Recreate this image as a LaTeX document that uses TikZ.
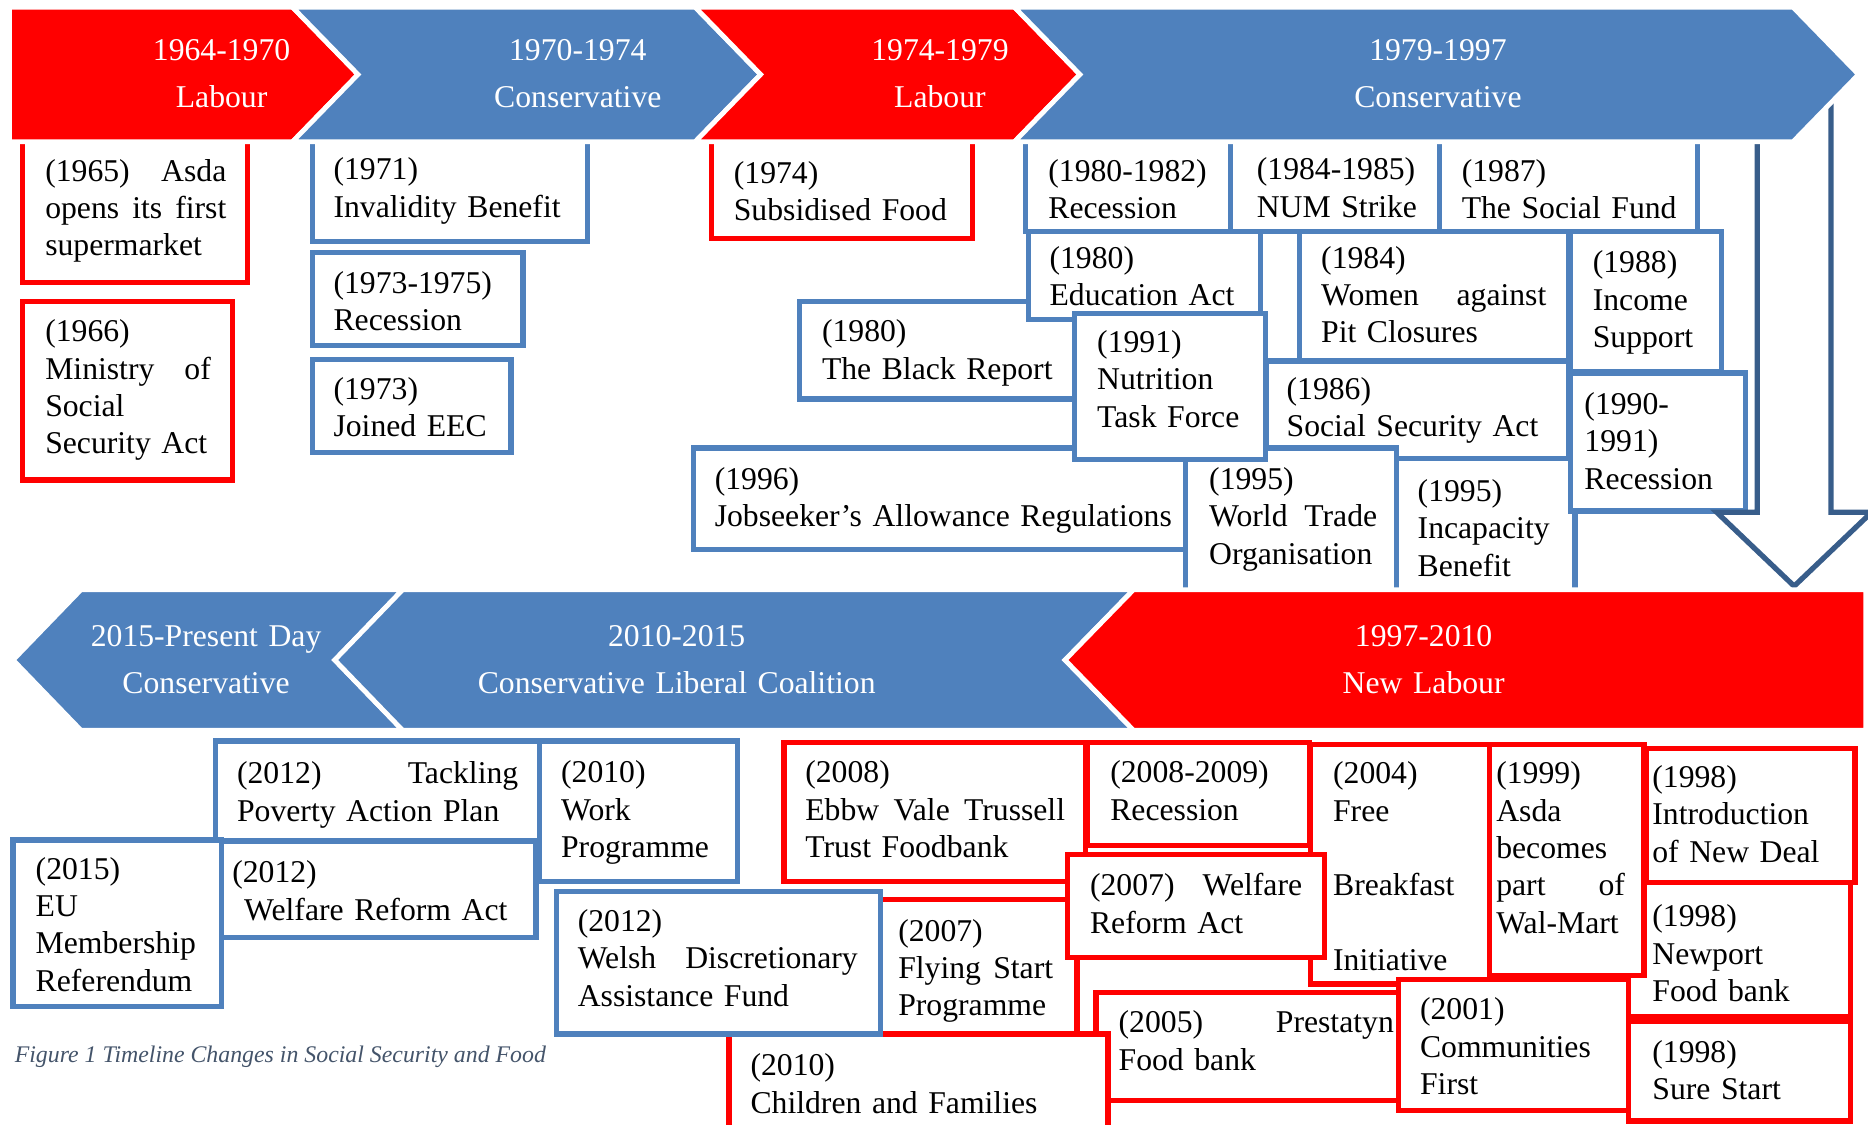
\documentclass[tikz,border=0pt]{standalone}
\usepackage{fontspec}
\setmainfont{Liberation Serif}
\definecolor{labred}{HTML}{FF0000}
\definecolor{barblue}{HTML}{4F81BD}
\definecolor{boxblue}{HTML}{4F81BD}
\definecolor{arrowblue}{HTML}{385D8A}
\definecolor{capcol}{HTML}{44546A}
% stretchable space for justified lines
\newcommand\gap{\hskip 0pt plus 1fill\relax}
\newcommand\boxfont{\fontsize{13.3pt}{15.65pt}\selectfont}
\newcommand\barfont{\fontsize{13.3pt}{19.5pt}\selectfont}
\hyphenpenalty=10000
\exhyphenpenalty=10000
\begin{document}
\begin{tikzpicture}[x=0.5pt,y=-0.5pt,
  chev/.style={draw=white,line width=2pt,line join=miter},
  rbox/.style={draw=labred,line width=2.2pt,fill=white},
  bbox/.style={draw=boxblue,line width=2.2pt,fill=white},
  txt/.style={anchor=base west,inner sep=0pt,outer sep=0pt,align=left,font=\boxfont,text width=#1},
  txt/.default=200pt,
  barlab/.style={anchor=base,inner sep=0pt,text width=240pt,align=center,text=white,font=\barfont},
  arrowline/.style={draw=arrowblue,line width=2.2pt,fill=white,line join=miter}]
\path[use as bounding box] (0,0) rectangle (1568,944);
\clip (0,0) rectangle (1568,944);

% ---------- upper row of events ----------
\path[rbox] (19,119) rectangle (208,237);
\node[txt=76pt] (t65) at (38,152) {(1965)\gap Asda\\opens\gap its\gap first\\supermarket};
\path[rbox] (19,253) rectangle (195,403);
\node[txt=69.5pt] (t66) at (38,287) {(1966)\\Ministry\gap of\\Social\\Security Act};
\path[bbox] (262,119) rectangle (493,203);
\node[txt] (t71) at (280,151) {(1971)\\Invalidity Benefit};
\path[bbox] (262,212) rectangle (439,290);
\node[txt] (t73r) at (280,246) {(1973-1975)\\Recession};
\path[bbox] (262,302) rectangle (429,380);
\node[txt] (t73) at (280,335) {(1973)\\Joined EEC};
\path[rbox] (597,119) rectangle (816,200);
\node[txt] (t74) at (616,154) {(1974)\\Subsidised Food};

\path[bbox] (671,253) rectangle (940,335);
\node[txt] (t80b) at (690,287) {(1980)\\The Black Report};
\path[bbox] (582,376) rectangle (995,461);
\node[txt] (t96) at (600,411) {(1996)\\Jobseeker’s Allowance Regulations};
\path[bbox] (1030,119) rectangle (1208,194);
\node[txt] (t84n) at (1055,151) {(1984-1985)\\NUM Strike};
\path[bbox] (861,119) rectangle (1033,194);
\node[txt] (t80r) at (880,152) {(1980-1982)\\Recession};
\path[bbox] (863,194) rectangle (1058,268);
\node[txt] (t80e) at (881,225) {(1980)\\Education Act};
\path[bbox] (1208,119) rectangle (1425,194);
\node[txt] (t87) at (1227,152) {(1987)\\The Social Fund};
\path[bbox] (1063,303) rectangle (1317,385);
\node[txt] (t86) at (1080,335) {(1986)\\Social Security Act};
\path[bbox] (1091,194) rectangle (1317,303);
\node[txt=94.5pt] (t84w) at (1109,225) {(1984)\\Women\gap against\\Pit Closures};
\path[bbox] (1318,194) rectangle (1445,312);
\node[txt] (t88) at (1337,229) {(1988)\\Income\\Support};
\path[bbox] (995,376) rectangle (1172,505);
\node[txt=70.5pt] (t95w) at (1015,411) {(1995)\\World\gap Trade\\Organisation};
\path[bbox] (1172,385) rectangle (1322,505);
\node[txt] (t95i) at (1190,421) {(1995)\\Incapacity\\Benefit};
\path[bbox] (1318,313) rectangle (1465,429);
\node[txt] (t90) at (1330,348) {(1990-\\1991)\\Recession};
\path[bbox] (902,263) rectangle (1062,386);
\node[txt] (t91) at (921,296) {(1991)\\Nutrition\\Task Force};

% down arrow linking the two timelines
\path[arrowline] (1475,60) -- (1475,430) -- (1441,430) -- (1506,492) -- (1571,430) -- (1537,430) -- (1537,60) -- cycle;

% ---------- upper timeline ----------
\path[chev,fill=labred] (8,6) -- (245.5,6) -- (300.5,62.5) -- (245.5,119) -- (8,119) -- cycle;
\path[chev,fill=barblue] (245.5,6) -- (583.5,6) -- (638.5,62.5) -- (583.5,119) -- (245.5,119) -- (300.5,62.5) -- cycle;
\path[chev,fill=labred] (583.5,6) -- (851.5,6) -- (906.5,62.5) -- (851.5,119) -- (583.5,119) -- (638.5,62.5) -- cycle;
\path[chev,fill=barblue] (851.5,6) -- (1505,6) -- (1560,62.5) -- (1505,119) -- (851.5,119) -- (906.5,62.5) -- cycle;
\node[barlab] (p6470) at (186,51) {1964-1970\\Labour};
\node[barlab] (p7074) at (485,51) {1970-1974\\Conservative};
\node[barlab] (p7479) at (789,51) {1974-1979\\Labour};
\node[barlab] (p7997) at (1207,51) {1979-1997\\Conservative};

% ---------- lower timeline ----------
\path[chev,fill=barblue] (11,554) -- (68,495) -- (338,495) -- (281,554) -- (338,613) -- (68,613) -- cycle;
\path[chev,fill=barblue] (281,554) -- (338,495) -- (951.5,495) -- (894,554) -- (951.5,613) -- (338,613) -- cycle;
\path[chev,fill=labred] (894,554) -- (951.5,495) -- (1566,495) -- (1566,613) -- (951.5,613) -- cycle;
\node[barlab] (p15) at (173,543) {2015-Present Day\\Conservative};
\node[barlab] (p1015) at (568,543) {2010-2015\\Conservative Liberal Coalition};
\node[barlab] (p9710) at (1195,543) {1997-2010\\New Labour};

% ---------- lower row of events ----------
\path[bbox] (181,622) rectangle (453,706);
\node[txt=118pt] (t12t) at (199,658) {(2012)\gap Tackling\\Poverty Action Plan};
\path[bbox] (453,622) rectangle (619,740);
\node[txt] (t10w) at (471,657) {(2010)\\Work\\Programme};
\path[bbox] (11,705) rectangle (186,845);
\node[txt] (t15) at (30,738) {(2015)\\EU\\Membership\\Referendum};
\path[bbox] (186,706) rectangle (450,787);
\node[txt] (t12w) at (195,741) {(2012)\\\hspace*{5pt}Welfare Reform Act};
\path[rbox] (658,623) rectangle (911,740);
\node[txt=109pt] (t08e) at (676,657) {(2008)\\Ebbw\gap Vale\gap Trussell\\Trust Foodbank};
\path[rbox] (913,623) rectangle (1099,710);
\node[txt] (t08r) at (932,657) {(2008-2009)\\Recession};
\path[rbox] (1100,625) rectangle (1250,826);
\node[txt] (t04) at (1119,658) {(2004)\\Free\\[15.65pt]Breakfast\\[15.65pt]Initiative};
\path[rbox] (720,755) rectangle (904,868);
\node[txt=65pt] (t07f) at (754,790) {(2007)\\Flying\gap Start\\Programme};
\path[rbox] (896,717) rectangle (1112,804);
\node[txt=89pt] (t07w) at (915,752) {(2007)\gap Welfare\\Reform Act};
\path[rbox] (920,833) rectangle (1185,924);
\node[txt=115.5pt] (t05) at (939,867) {(2005)\gap Prestatyn\\Food bank};
\path[rbox] (612,868) rectangle (930,960);
\node[txt] (t10c) at (630,903) {(2010)\\Children and Families};
\path[bbox] (467,748) rectangle (739,868);
\node[txt=117.5pt] (t12d) at (485,782) {(2012)\\Welsh\gap Discretionary\\Assistance Fund};
\path[rbox] (1174,822) rectangle (1367,932);
\node[txt] (t01) at (1192,856) {(2001)\\Communities\\First};
\path[rbox] (1367,741) rectangle (1553,853);
\node[txt] (t98n) at (1387,778) {(1998)\\Newport\\Food bank};
\path[rbox] (1367,857) rectangle (1553,941);
\node[txt] (t98s) at (1387,892) {(1998)\\Sure Start};
\path[rbox] (1382,628) rectangle (1557,741);
\node[txt] (t98d) at (1387,661) {(1998)\\Introduction\\of New Deal};
\path[rbox] (1250,625) rectangle (1380,819);
\node[txt=54pt] (t99) at (1256,658) {(1999)\\Asda\\becomes\\part\gap of\\Wal-Mart};

% caption
\node[anchor=base west,inner sep=0pt,font=\fontsize{10pt}{12pt}\selectfont\itshape,text=capcol] (cap) at (12,892) {Figure 1 Timeline Changes in Social Security and Food};
\end{tikzpicture}
\end{document}
